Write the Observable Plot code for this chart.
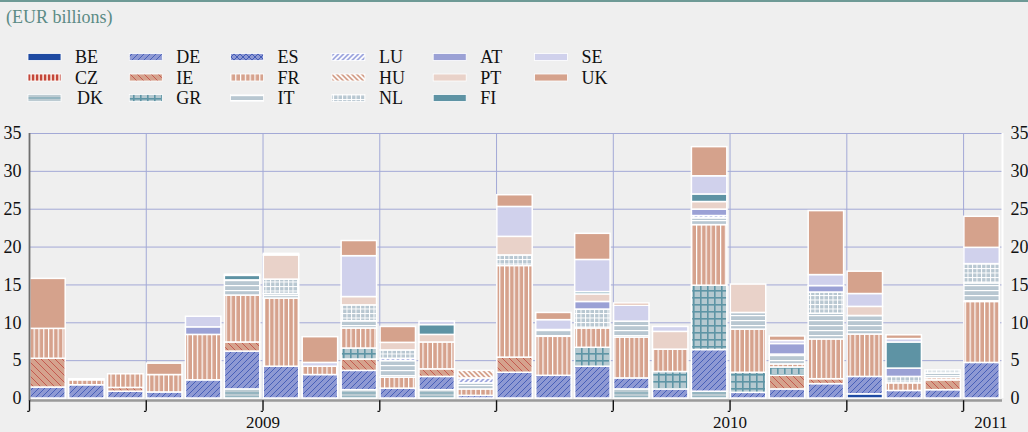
<!DOCTYPE html>
<html><head><meta charset="utf-8">
<script src="https://cdn.jsdelivr.net/npm/d3@7"></script>
<script src="https://cdn.jsdelivr.net/npm/@observablehq/plot@0.6"></script>
<style>
html,body{margin:0;padding:0;background:#efefef;}
body{width:1028px;height:432px;overflow:hidden;font-family:"Liberation Serif","Times New Roman",serif;}
#defs{position:absolute;left:0;top:0;width:0;height:0;}
#head svg,#chart svg{display:block;}
</style></head><body>
<svg id="defs" width="0" height="0"><defs id="pats"></defs></svg>
<div id="head"></div>
<div id="chart"></div>
<script>
// ---- data (EUR billions), 25 periods ----
const countries = ["BE","CZ","DK","DE","IE","GR","ES","FR","IT","LU","HU","NL","AT","PT","FI","SE","UK"];
const BE = [0,0,0,0,0,0,0,0,0,0,0,0,0,0,0,0,0,0,0,0,0,0.55,0,0,0];
const CZ = [0,0,0,0,0,0,0,0,0,0,0,0,0,0,0,0,0,0,0,0,0,0,0,0,0];
const DK = [0,0,0,0,0,1.2,0,0,1.1,0,1.1,0,0,0,0,1.2,0,0.9,0,0,0,0,0,0,0];
const DE = [1.45,1.75,0.9,0.8,2.4,5.0,4.2,3.1,2.55,1.3,1.75,0.35,3.4,3.0,4.2,1.45,1.2,5.5,0.75,1.2,1.9,2.3,1.0,1.1,4.7];
const IE = [3.8,0,0.5,0,0,1.2,0,0,1.5,0,1.0,0,2.0,0,0,0,0,0,0,1.8,0.65,0,0,1.3,0];
const GR = [0,0,0,0,0,0,0,0,1.45,0,0,0,0,0,2.5,0,2.3,8.5,2.65,1.1,0,0,0,0,0];
const ES = [0,0,0,0,0,0,0,0,0,0,0,0,0,0,0,0,0,0,0,0,0,0,0,0,0];
const FR = [3.95,0.65,1.8,2.3,6.0,6.2,9.0,1.1,2.65,1.45,3.55,0.85,12.1,5.15,2.55,5.4,2.95,8.0,5.7,0.4,5.25,5.6,1.0,0.3,8.05];
const IT = [0,0,0,0,0,2.0,0.6,0,0.95,2.2,0,0.8,0,0.9,0,2.1,0,0.9,2.2,1.3,3.4,2.45,0,0.6,2.45];
const LU = [0,0,0,0,0,0,0,0,0,0.3,0,0.65,0,0,0,0,0,0.3,0,0,0,0,0,0,0];
const HU = [0,0,0,0,0,0,0,0,0,0,0,1.0,0,0,0,0,0,0,0,0,0,0,0,0,0];
const NL = [0,0,0,0,0,0,1.9,0,2.1,1.1,0,0,1.4,0,2.5,0,0,0,0,0,2.8,0,0.85,0.4,2.55];
const AT = [0,0,0,0,1.0,0,0,0,0,0,0,0,0,0,1.0,0,0,0.85,0,1.4,0.85,0,1.1,0,0];
const PT = [0,0,0,0,0,0,3.2,0,1.1,1.0,1.0,0,2.45,0,1.0,0,2.35,1.0,3.75,0,0,1.2,0,0,0];
const FI = [0,0,0,0,0,0.6,0,0,0,0,1.3,0,0,0,0.3,0,0,1.0,0,0,0,0,3.45,0,0];
const SE = [0,0.15,0,0,1.4,0.15,0.2,0.5,5.4,0,0.45,0,3.95,1.3,4.25,2.1,0.65,2.4,0,0.4,1.45,1.7,0.45,0,2.15];
const UK = [6.6,0,0,1.5,0,0,0,3.4,2.0,2.1,0,0,1.55,0.95,3.45,0.3,0,3.85,0,0.6,8.45,2.95,0.5,0,4.1];
const yTicks = [0,5,10,15,20,25,30,35];
const xTicks = [0,3,6,9,12,15,18,21,24];
const xGrid = [3,6,9,12,15,18,21,24];
const yearLabels = ["2009","2010","2011"];
const yearPos = [6,18,24.7];

const series = {BE,CZ,DK,DE,IE,GR,ES,FR,IT,LU,HU,NL,AT,PT,FI,SE,UK};
const nBars = DE.length;
const data = [];
for (let i = 0; i < nBars; i++) for (const c of countries) {
  const v = series[c][i];
  if (v > 0) data.push({i, country: c, value: v});
}

// ---- patterns ----
const defs = d3.select("#pats");
function pat(id, w, h, bg, draw) {
  const p = defs.append("pattern").attr("id", "p-" + id).attr("patternUnits", "userSpaceOnUse")
    .attr("width", w).attr("height", h);
  p.append("rect").attr("width", w).attr("height", h).attr("fill", bg);
  if (draw) draw(p);
}
const solid = (id, c) => pat(id, 4, 4, c);
solid("BE", "#1e4aa2");
solid("AT", "#9ba1d5");
solid("SE", "#d0d1ec");
solid("PT", "#e9d2c9");
solid("UK", "#d5a28c");
solid("FI", "#5e93a4");
pat("DE", 6, 6, "#8e99d3", p => p.append("path").attr("d", "M0,6L6,0M-1,1L1,-1M5,7L7,5").attr("stroke", "#4159b6").attr("stroke-width", 0.9));
pat("ES", 6, 6, "#8e99d3", p => p.append("path").attr("d", "M0,6L6,0M-1,1L1,-1M5,7L7,5M0,0L6,6M-1,5L1,7M5,-1L7,1").attr("stroke", "#3b55b3").attr("stroke-width", 0.9));
pat("LU", 5, 5, "#a1a9e0", p => p.append("path").attr("d", "M0,5L5,0M-1,1L1,-1M4,6L6,4").attr("stroke", "#fff").attr("stroke-width", 1.6));
pat("IE", 7, 7, "#d5a28d", p => p.append("path").attr("d", "M0,0L7,7M-1,6L1,8M6,-1L8,1").attr("stroke", "#c2514a").attr("stroke-width", 0.9));
pat("HU", 5, 5, "#d5a28d", p => p.append("path").attr("d", "M0,0L5,5M-1,4L1,6M4,-1L6,1").attr("stroke", "#fff").attr("stroke-width", 1.6));
pat("FR", 4.8, 6, "#d6a28d", p => p.append("rect").attr("x", 0).attr("width", 1.2).attr("height", 6).attr("fill", "#fff"));
pat("CZ", 4, 6, "#f3d6cc", p => p.append("rect").attr("x", 0).attr("width", 2.2).attr("height", 6).attr("fill", "#c4473a"));
pat("DK", 6, 4, "#bccbd2", p => p.append("rect").attr("y", 1.5).attr("width", 6).attr("height", 1).attr("fill", "#6f9fae"));
pat("GR", 7, 7, "#b5c9d0", p => { p.append("rect").attr("x", 0).attr("width", 1.6).attr("height", 7).attr("fill", "#5e95a5"); p.append("rect").attr("y", 0).attr("width", 7).attr("height", 1.6).attr("fill", "#5e95a5"); });
pat("IT", 6, 5, "#b8c7d1", p => p.append("rect").attr("y", 0).attr("width", 6).attr("height", 1.2).attr("fill", "#fff"));
pat("NL", 4.5, 4.5, "#b8c7d1", p => { p.append("rect").attr("x", 0).attr("width", 1).attr("height", 4.5).attr("fill", "#fff"); p.append("rect").attr("y", 0).attr("width", 4.5).attr("height", 1).attr("fill", "#fff"); });

// ---- header: title + legend ----
const head = d3.select("#head").append("svg").attr("width", 1028).attr("height", 115)
  .style("font-family", "'Liberation Serif','Times New Roman',serif");
head.append("rect").attr("x", 0).attr("y", 0).attr("width", 1028).attr("height", 2).attr("fill", "#6e9a96");
head.append("text").attr("x", 6).attr("y", 23).attr("font-size", 18).attr("fill", "#5b8b85").text("(EUR billions)");
const rowsY = [57, 77.5, 98];
countries.forEach((c, k) => {
  const col = Math.floor(k / 3), row = k % 3;
  const x0 = 28 + col * 101.3, yc = rowsY[row];
  head.append("rect").attr("x", x0).attr("y", yc - 3.5).attr("width", 33).attr("height", 7)
    .attr("fill", `url(#p-${c})`).attr("stroke", "#fff").attr("stroke-width", 0.8);
  head.append("text").attr("x", 75 + col * 101.3 + (c === "DK" ? 2 : 0)).attr("y", yc).attr("dy", "0.35em")
    .attr("font-size", 18).attr("fill", "#111").text(c);
});

// ---- chart ----
const grid = "#a3a9d6";
const chart = Plot.plot({
  width: 1028, height: 317,
  marginTop: 18, marginBottom: 34, marginLeft: 29, marginRight: 26,
  x: {domain: [0, nBars], axis: null},
  y: {domain: [0, 35], axis: null, label: null},
  color: {type: "identity"},
  style: {background: "transparent", fontFamily: "'Liberation Serif','Times New Roman',serif", fontSize: "18px", color: "#111", overflow: "visible"},
  marks: [
    Plot.ruleY(yTicks.filter(d => d > 0), {stroke: grid, strokeWidth: 1}),
    Plot.ruleX(xGrid, {y1: 0, y2: 35, stroke: grid, strokeWidth: 1}),
    Plot.rectY(data, {
      x: "i", x1: d => d.i + 0.02, x2: d => d.i + 0.93, y: "value",
      fill: d => `url(#p-${d.country})`, stroke: "#fff", strokeWidth: 1.5
    }),
    Plot.ruleY([0], {stroke: "#9a9a9a", strokeWidth: 2.5, dy: 2}),
    Plot.ruleX([0], {y1: -0.35, y2: 35, stroke: "#6f6f6f", strokeWidth: 1.8}),
    Plot.ruleX([nBars], {y1: 0, y2: 35, stroke: "#fff", strokeWidth: 2}),
    Plot.ruleX(xTicks, {y1: -0.3, y2: -1.7, stroke: "#111", strokeWidth: 1.4}),
    Plot.link(xTicks, {x1: d => d - 0.06, x2: d => d, y1: () => -1.7, y2: () => -1.7, stroke: "#111", strokeWidth: 1.2}),
    Plot.axisY({anchor: "left", ticks: yTicks, tickSize: 0, tickPadding: 8, label: null, fill: "#111"}),
    Plot.axisY({anchor: "right", ticks: yTicks, tickSize: 0, tickPadding: 8, label: null, fill: "#111"}),
    Plot.text(yearLabels, {x: (d, i) => yearPos[i], y: () => -3.2, text: d => d, fill: "#111", fontSize: 17})
  ]
});
document.getElementById("chart").appendChild(chart);
</script>
</body></html>
